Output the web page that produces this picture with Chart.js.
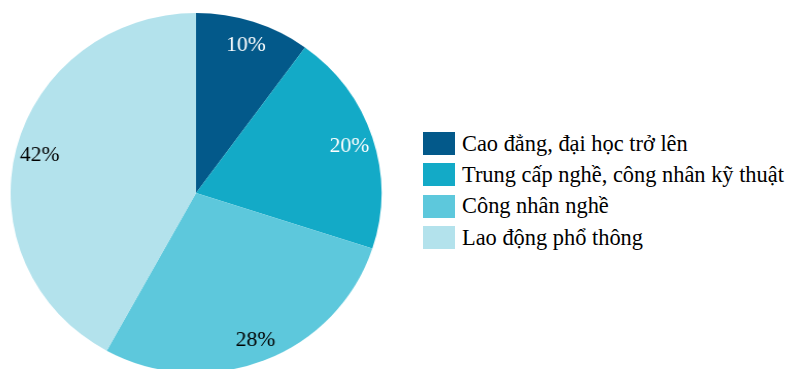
<!DOCTYPE html>
<html><head><meta charset="utf-8">
<script src="https://cdn.jsdelivr.net/npm/chart.js@4"></script>
<style>
html,body{margin:0;padding:0;width:785px;height:369px;overflow:hidden;background:#fff;}
#wrap{position:absolute;left:-4.5px;top:-7px;width:400px;height:400px;transform:scaleX(1.03);transform-origin:200px 200px;}
#legend{position:absolute;left:423px;top:128px;font-family:"Liberation Serif","Times New Roman",serif;font-size:22.4px;color:#000;}
.item{display:flex;align-items:center;height:31.3px;}
.box{width:32px;height:23px;margin-right:7px;flex:none;}
</style></head>
<body>
<div id="wrap"><canvas id="c" width="400" height="400"></canvas></div>
<div id="legend"></div>
<script>
const categories = ["Cao đẳng, đại học trở lên","Trung cấp nghề, công nhân kỹ thuật","Công nhân nghề","Lao động phổ thông"];
const values = [10, 20, 28, 42];
const sliceLabels = ["10%","20%","28%","42%"];
const colors = ["#03598A","#13AAC7","#5DC8DC","#B3E2EC"];
const labelColors = ["#ffffff","#ffffff","#000000","#000000"];

const leg = document.getElementById('legend');
categories.forEach((c,i)=>{
  const d=document.createElement('div');d.className='item';
  const b=document.createElement('div');b.className='box';b.style.background=colors[i];
  const t=document.createElement('span');t.textContent=c;
  d.appendChild(b);d.appendChild(t);leg.appendChild(d);
});

const labelPlugin = {
  id:'sliceLabels',
  afterDatasetsDraw(chart){
    const ctx=chart.ctx;
    const meta=chart.getDatasetMeta(0);
    ctx.save();
    ctx.font='21px "Liberation Serif","Times New Roman",serif';
    ctx.textAlign='center';ctx.textBaseline='middle';
    meta.data.forEach((arc,i)=>{
      const p=arc.getProps(['x','y','startAngle','endAngle','outerRadius'],true);
      const a=(p.startAngle+p.endAngle)/2;
      const r=p.outerRadius*0.87;
      ctx.fillStyle=labelColors[i];
      ctx.fillText(sliceLabels[i], p.x+Math.cos(a)*r, p.y+Math.sin(a)*r+1.5);
    });
    ctx.restore();
  }
};

new Chart(document.getElementById('c'),{
  type:'pie',
  data:{labels:categories,datasets:[{data:values,backgroundColor:colors,borderWidth:0}]},
  options:{
    responsive:false,animation:false,
    layout:{padding:20},
    plugins:{legend:{display:false},tooltip:{enabled:false}}
  },
  plugins:[labelPlugin]
});
</script>
</body></html>
